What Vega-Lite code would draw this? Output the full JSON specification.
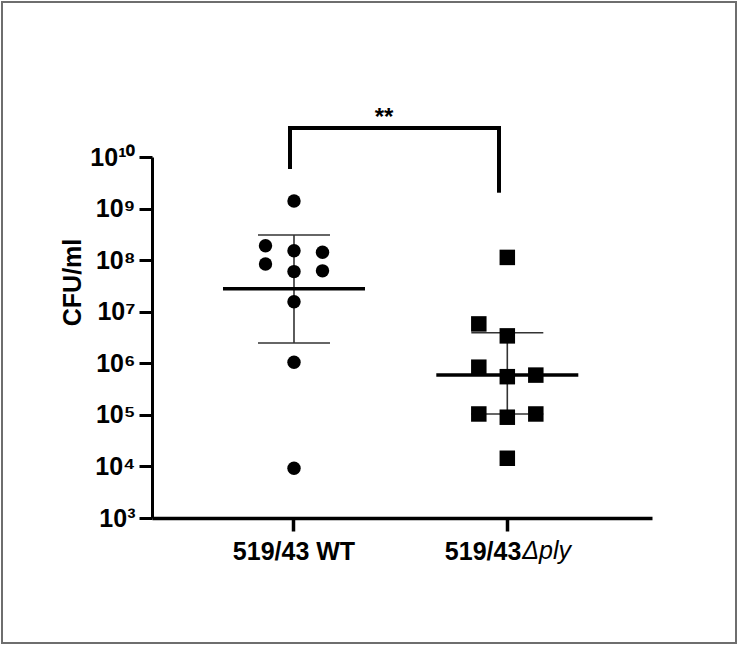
{
  "$schema": "https://vega.github.io/schema/vega-lite/v6.json",
  "width": 734,
  "height": 641,
  "padding": 2,
  "autosize": {"type": "none"},
  "background": "white",
  "config": {
    "view": {"stroke": "#6e6e6e", "strokeWidth": 2},
    "font": "Liberation Sans"
  },
  "datasets": {
    "points": [
      {"strain": "519/43 WT", "col": 0, "cfu": 1400000000},
      {"strain": "519/43 WT", "col": -1, "cfu": 190000000},
      {"strain": "519/43 WT", "col": -1, "cfu": 84000000},
      {"strain": "519/43 WT", "col": 0, "cfu": 152000000},
      {"strain": "519/43 WT", "col": 0, "cfu": 60000000},
      {"strain": "519/43 WT", "col": 1, "cfu": 142000000},
      {"strain": "519/43 WT", "col": 1, "cfu": 62000000},
      {"strain": "519/43 WT", "col": 0, "cfu": 15600000},
      {"strain": "519/43 WT", "col": 0, "cfu": 1050000},
      {"strain": "519/43 WT", "col": 0, "cfu": 9200},
      {"strain": "519/43Δply", "col": 0, "cfu": 113000000},
      {"strain": "519/43Δply", "col": -1, "cfu": 5800000},
      {"strain": "519/43Δply", "col": 0, "cfu": 3400000},
      {"strain": "519/43Δply", "col": -1, "cfu": 840000},
      {"strain": "519/43Δply", "col": 0, "cfu": 550000},
      {"strain": "519/43Δply", "col": 1, "cfu": 590000},
      {"strain": "519/43Δply", "col": -1, "cfu": 104000},
      {"strain": "519/43Δply", "col": 0, "cfu": 90000},
      {"strain": "519/43Δply", "col": 1, "cfu": 104000},
      {"strain": "519/43Δply", "col": 0, "cfu": 14400}
    ],
    "summary": [
      {"strain": "519/43 WT", "median": 28000000, "lo": 2470000, "hi": 307000000},
      {"strain": "519/43Δply", "median": 590000, "lo": 104000, "hi": 3920000}
    ],
    "bracket": [
      {"strain": "519/43 WT", "strain2": "519/43Δply", "top": 36500000000, "lb": 5850000000, "rb": 2030000000, "label": "**"}
    ],
    "suffix": [
      {"strain": "519/43Δply", "text": "Δply"}
    ]
  },
  "encoding": {
    "x": {
      "field": "strain",
      "type": "nominal",
      "sort": ["519/43 WT", "519/43Δply"],
      "scale": {
        "domain": ["519/43 WT", "519/43Δply"],
        "range": [150, 650],
        "paddingInner": 0,
        "paddingOuter": 0.172,
        "align": 0.4816
      },
      "axis": {
        "orient": "bottom",
        "offset": -125,
        "title": null,
        "grid": false,
        "labelAngle": 0,
        "labelExpr": "datum.value == '519/43Δply' ? '519/43' : datum.value",
        "labelAlign": {"condition": {"test": "datum.value == '519/43Δply'", "value": "right"}, "value": "center"},
        "labelOffset": {"condition": {"test": "datum.value == '519/43Δply'", "value": 14}, "value": 0},
        "domainColor": "black",
        "domainWidth": 3.5,
        "tickColor": "black",
        "tickWidth": 3.5,
        "tickSize": 13,
        "labelColor": "black",
        "labelFont": "Liberation Sans",
        "labelFontWeight": "bold",
        "labelFontSize": 25,
        "labelPadding": 8,
        "labelBaseline": "top"
      }
    }
  },
  "layer": [
    {
      "data": {"name": "summary"},
      "mark": {"type": "rule", "color": "#333333", "strokeWidth": 1.6},
      "encoding": {
        "y": {
          "field": "lo",
          "type": "quantitative",
          "scale": {"type": "log", "domain": [1000, 10000000000], "range": [516, 155], "nice": false},
          "axis": {
            "orient": "left",
            "offset": -150,
            "values": [1000, 10000, 100000, 1000000, 10000000, 100000000, 1000000000, 10000000000],
            "labelExpr": "'10' + (round(log(datum.value)/LN10) >= 10 ? '¹⁰' : ['⁰','¹','²','³','⁴','⁵','⁶','⁷','⁸','⁹'][round(log(datum.value)/LN10)])",
            "grid": false,
            "domainColor": "black",
            "domainWidth": 3,
            "tickColor": "black",
            "tickWidth": 3,
            "tickSize": 13,
            "labelColor": "black",
            "labelFont": "Liberation Sans",
            "labelFontWeight": "bold",
            "labelFontSize": 25,
            "labelPadding": 4,
            "labelBaseline": "middle",
            "title": "CFU/ml",
            "titleColor": "black",
            "titleFont": "Liberation Sans",
            "titleFontWeight": "bold",
            "titleFontSize": 25,
            "titleAngle": -90,
            "titleAlign": "center",
            "titleBaseline": "middle",
            "titleX": -80,
            "titleY": 280
          }
        },
        "y2": {"field": "hi"}
      }
    },
    {
      "data": {"name": "summary"},
      "mark": {"type": "tick", "color": "#333333", "thickness": 1.6, "size": 72, "opacity": 1},
      "encoding": {"y": {"field": "hi", "type": "quantitative"}}
    },
    {
      "data": {"name": "summary"},
      "mark": {"type": "tick", "color": "#333333", "thickness": 1.6, "size": 72, "opacity": 1},
      "encoding": {"y": {"field": "lo", "type": "quantitative"}}
    },
    {
      "data": {"name": "summary"},
      "mark": {"type": "tick", "color": "black", "thickness": 3.5, "size": 142, "opacity": 1},
      "encoding": {"y": {"field": "median", "type": "quantitative"}}
    },
    {
      "data": {"name": "points"},
      "mark": {"type": "point", "filled": true, "opacity": 1, "color": "black", "strokeWidth": 0},
      "encoding": {
        "xOffset": {"field": "col", "type": "quantitative", "scale": {"domain": [-1, 1], "range": [78.16, 135.16]}},
        "y": {"field": "cfu", "type": "quantitative"},
        "shape": {"field": "strain", "type": "nominal", "scale": {"domain": ["519/43 WT", "519/43Δply"], "range": ["circle", "square"]}, "legend": null},
        "size": {"field": "strain", "type": "nominal", "scale": {"domain": ["519/43 WT", "519/43Δply"], "range": [180, 240]}, "legend": null}
      }
    },
    {
      "data": {"name": "bracket"},
      "mark": {"type": "rule", "color": "black", "strokeWidth": 4, "strokeCap": "square", "xOffset": -4, "x2Offset": -8.3},
      "encoding": {"x2": {"field": "strain2"}, "y": {"field": "top", "type": "quantitative"}}
    },
    {
      "data": {"name": "bracket"},
      "mark": {"type": "rule", "color": "black", "strokeWidth": 4, "xOffset": -4},
      "encoding": {"y": {"field": "top", "type": "quantitative"}, "y2": {"field": "lb"}}
    },
    {
      "data": {"name": "bracket"},
      "mark": {"type": "rule", "color": "black", "strokeWidth": 4, "xOffset": -8.3},
      "encoding": {"x": {"field": "strain2", "type": "nominal"}, "y": {"field": "top", "type": "quantitative"}, "y2": {"field": "rb"}}
    },
    {
      "data": {"name": "bracket"},
      "mark": {"type": "text", "color": "black", "font": "Liberation Sans", "fontWeight": "bold", "fontSize": 24, "align": "center", "baseline": "alphabetic", "dx": 90, "dy": -3},
      "encoding": {"y": {"field": "top", "type": "quantitative"}, "text": {"field": "label"}}
    },
    {
      "data": {"name": "suffix"},
      "mark": {"type": "text", "color": "black", "font": "Liberation Sans", "fontWeight": "normal", "fontStyle": "italic", "fontSize": 25, "align": "left", "baseline": "top", "dx": 15, "dy": 21},
      "encoding": {"y": {"datum": 1000, "type": "quantitative"}, "text": {"field": "text"}}
    }
  ]
}
